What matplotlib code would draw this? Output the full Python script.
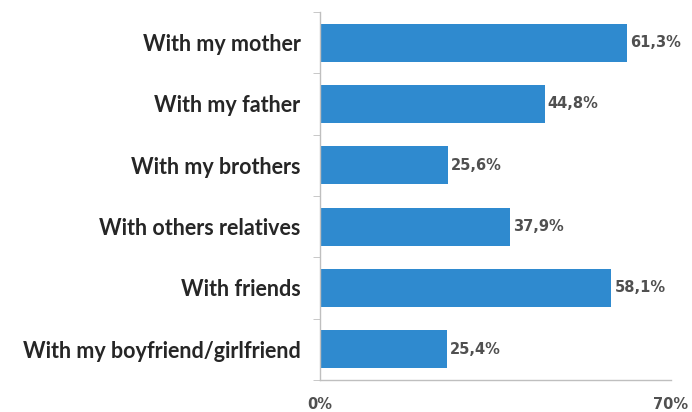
import matplotlib
matplotlib.use("Agg")
import matplotlib.pyplot as plt
import numpy as np

categories = [
    "With my mother",
    "With my father",
    "With my brothers",
    "With others relatives",
    "With friends",
    "With my boyfriend/girlfriend",
]
values = [61.3, 44.8, 25.6, 37.9, 58.1, 25.4]
value_labels = ["61,3%", "44,8%", "25,6%", "37,9%", "58,1%", "25,4%"]
x_ticks = [0, 70]
x_tick_labels = ["0%", "70%"]

plt.rcParams["font.family"] = ["Lato", "DejaVu Sans"]

fig = plt.figure(figsize=(6.92, 4.12), dpi=100)
ax = fig.add_axes([0.4624, 0.0777, 0.5073, 0.8933])

y = np.arange(len(categories))
ax.barh(y, values, height=0.62, color="#2F8ACF")
ax.set_ylim(len(categories) - 0.5, -0.5)
ax.set_xlim(0, 70)

num_font = dict(family="DejaVu Sans", fontweight="bold", color="#505050")
for yi, v, lab in zip(y, values, value_labels):
    ax.text(v + 0.6, yi, lab, va="center", ha="left", fontsize=10.5, **num_font)

ax.set_yticks(y)
ax.set_yticklabels(categories, fontsize=15.5, fontweight="bold", color="#262626")
ax.set_yticks(np.arange(len(categories) + 1) - 0.5, minor=True)
ax.tick_params(axis="y", which="major", length=0, pad=14)
ax.tick_params(axis="y", which="minor", length=5, color="#bfbfbf", direction="out")

ax.set_xticks(x_ticks)
ax.set_xticklabels(x_tick_labels, fontsize=10.5, **num_font)
ax.tick_params(axis="x", length=0, pad=12)

for side in ("top", "right"):
    ax.spines[side].set_visible(False)
for side in ("left", "bottom"):
    ax.spines[side].set_color("#bfbfbf")
    ax.spines[side].set_linewidth(1)

fig.savefig("out.png", dpi=100)
